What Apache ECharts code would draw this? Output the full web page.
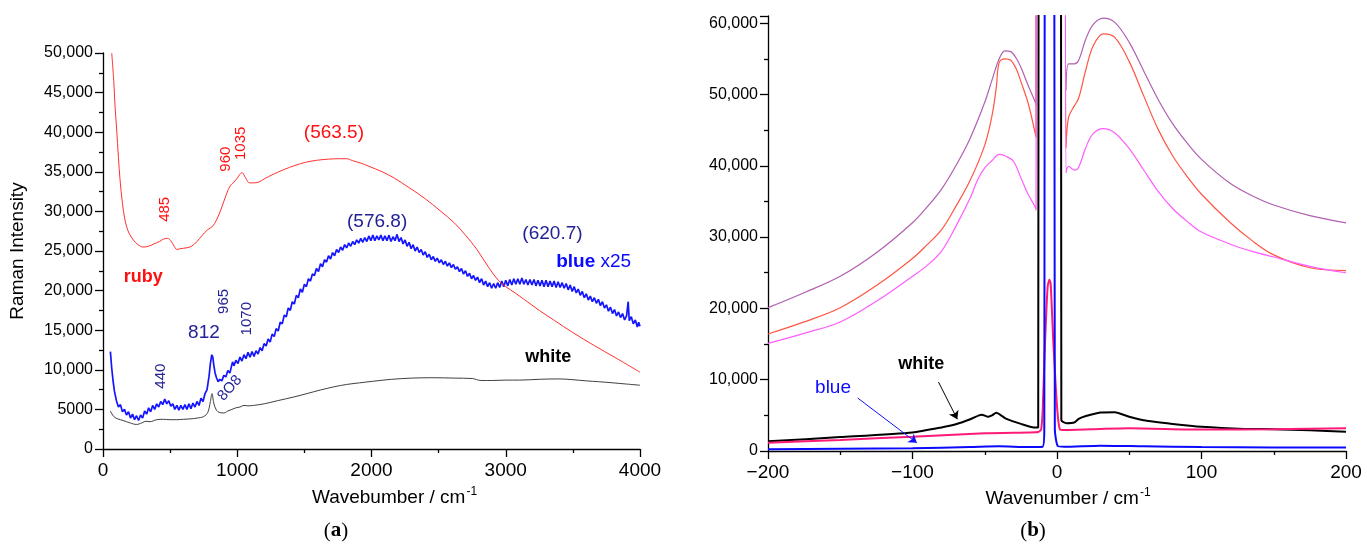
<!DOCTYPE html>
<html>
<head>
<meta charset="utf-8">
<script src="https://cdn.jsdelivr.net/npm/echarts@6.0.0/dist/echarts.min.js"></script>
<style>
html,body{margin:0;padding:0;background:#fff;}
#chart{width:1367px;height:546px;}
</style>
</head>
<body>
<div id="chart"></div>
<script>
// ---------- Panel (a) data: [wavenumber, intensity] ----------
const rubyA = [[65,50000],[80,46500],[90,43200],[102,40300],[115,36800],[127,34000],[145,31000],[164,28900],[190,27400],[226,26400],[260,25800],[300,25500],[340,25600],[380,25900],[420,26200],[450,26500],[480,26600],[505,26300],[530,25600],[550,25200],[580,25300],[620,25400],[660,25600],[700,26200],[740,27000],[780,27700],[815,28100],[845,28900],[880,30300],[920,32200],[950,33300],[975,33700],[1000,34200],[1020,34700],[1035,34900],[1050,34600],[1070,34000],[1090,33600],[1120,33600],[1160,33700],[1200,34100],[1270,34700],[1350,35300],[1430,35800],[1510,36200],[1590,36450],[1680,36600],[1760,36650],[1815,36650],[1860,36400],[1920,36100],[1980,35700],[2080,35000],[2170,34200],[2280,33000],[2400,31600],[2510,30100],[2620,28500],[2700,27000],[2785,25200],[2870,23000],[2945,21300],[3000,20500],[3070,19700],[3140,18850],[3250,17500],[3365,16200],[3500,14700],[3655,13100],[3820,11500],[4000,9700]];

const blueA = [[55,12300],[65,10200],[75,8600],[85,7300],[100,6100],[115,5300],[130,5600],[145,4700],[160,5000],[175,4300],[190,4700],[205,3900],[220,4400],[235,3700],[250,4200],[265,3600],[280,4300],[295,3900],[310,4800],[325,4400],[340,5200],[355,4700],[370,5500],[385,5000],[400,5700],[415,5300],[430,6000],[445,5600],[460,6300],[475,5700],[490,6100],[505,5400],[520,5700],[535,5000],[550,5500],[565,4900],[580,5500],[595,5000],[610,5600],[625,5000],[640,5700],[655,5100],[670,5800],[685,5300],[700,6000],[715,5500],[730,6400],[745,6000],[760,7000],[775,7500],[790,9200],[800,10800],[810,11900],[818,11600],[826,10500],[835,9600],[845,9000],[858,8500],[870,8800],[885,8600],[900,9300],[915,9100],[930,9900],[945,9600],[955,10300],[965,11000],[975,10500],[990,11200],[1005,10800],[1020,11600],[1035,11100],[1050,11900],[1065,11400],[1080,12200],[1095,11600],[1110,12300],[1125,11700],[1140,12400],[1155,12000],[1170,12800],[1185,12400],[1200,13300],[1215,13000],[1230,13900],[1245,13500],[1260,14500],[1275,14200],[1290,15200],[1305,14900],[1320,16000],[1335,15800],[1350,16900],[1365,16700],[1380,17800],[1395,17500],[1410,18600],[1425,18300],[1440,19400],[1455,19100],[1470,20200],[1485,19800],[1500,20800],[1515,20500],[1530,21500],[1545,21200],[1560,22100],[1575,21900],[1590,22800],[1605,22400],[1620,23400],[1635,23000],[1650,23900],[1665,23600],[1680,24400],[1695,24000],[1710,24800],[1725,24400],[1740,25200],[1755,24800],[1770,25500],[1785,25100],[1800,25800],[1815,25400],[1830,26000],[1845,25600],[1860,26200],[1875,25800],[1890,26400],[1905,26000],[1920,26600],[1935,26100],[1950,26700],[1965,26200],[1980,26900],[1995,26300],[2010,27000],[2025,26300],[2040,26900],[2055,26400],[2070,27000],[2085,26300],[2100,26900],[2115,26300],[2130,27000],[2145,26200],[2160,26800],[2175,26300],[2190,27100],[2205,26200],[2220,26700],[2235,25900],[2250,26400],[2265,25600],[2280,26100],[2295,25300],[2310,25800],[2325,25000],[2340,25500],[2355,24800],[2370,25200],[2385,24500],[2400,24900],[2415,24200],[2430,24600],[2445,23900],[2460,24300],[2475,23700],[2490,24100],[2505,23500],[2520,23900],[2535,23300],[2550,23700],[2565,23100],[2580,23500],[2595,22900],[2610,23300],[2625,22700],[2640,23000],[2655,22400],[2670,22800],[2685,22100],[2700,22500],[2715,21800],[2730,22200],[2745,21500],[2760,21900],[2775,21300],[2790,21700],[2805,21000],[2820,21500],[2835,20700],[2850,21200],[2865,20500],[2880,21000],[2895,20300],[2910,20900],[2925,20300],[2940,21000],[2955,20400],[2970,21200],[2985,20500],[3000,21300],[3015,20600],[3030,21400],[3045,20700],[3060,21500],[3075,20800],[3090,21500],[3105,20800],[3120,21600],[3135,20800],[3150,21400],[3165,20700],[3180,21400],[3195,20700],[3210,21400],[3225,20600],[3240,21300],[3255,20600],[3270,21300],[3285,20500],[3300,21300],[3315,20500],[3330,21200],[3345,20500],[3360,21200],[3375,20400],[3390,21100],[3405,20400],[3420,21000],[3435,20300],[3450,20900],[3465,20100],[3480,20700],[3495,19900],[3510,20500],[3525,19700],[3540,20200],[3555,19400],[3570,19900],[3585,19100],[3600,19600],[3615,18800],[3630,19300],[3645,18600],[3660,19100],[3675,18400],[3690,18900],[3705,18100],[3720,18600],[3735,17800],[3750,18200],[3765,17400],[3780,17900],[3795,17100],[3810,17600],[3825,16800],[3840,17300],[3855,16600],[3870,17100],[3885,16300],[3900,16800],[3912,18600],[3920,16200],[3935,16700],[3950,15800],[3965,16300],[3980,15400],[3990,16000],[4000,15500]];

const whiteA = [[55,4800],[80,4100],[110,3800],[150,3600],[200,3300],[250,3100],[290,3300],[320,3500],[350,3450],[400,3700],[450,3750],[500,3700],[550,3700],[600,3750],[650,3800],[700,3900],[750,4100],[780,4600],[800,6000],[812,7000],[825,5800],[845,4900],[870,4600],[900,4550],[930,4800],[960,5000],[990,5200],[1020,5300],[1050,5500],[1080,5450],[1120,5500],[1200,5700],[1300,6100],[1430,6600],[1520,7000],[1620,7450],[1720,7850],[1815,8150],[1910,8350],[2010,8550],[2150,8800],[2300,8950],[2450,9000],[2620,8950],[2750,8900],[2815,8650],[2900,8650],[3000,8700],[3105,8700],[3250,8800],[3395,8850],[3500,8750],[3600,8600],[3690,8500],[3800,8350],[3900,8200],[4000,8050]];

// ---------- Panel (b) data ----------
const purpleB = [[-200,20100],[-175,22200],[-150,24500],[-125,27800],[-100,32000],[-90,34200],[-80,36700],[-70,40000],[-60,43900],[-50,48900],[-45,52000],[-40,55000],[-36,56100],[-32,56000],[-28,55000],[-25,53800],[-20,51300],[-15,48900],[-14.5,48500],[-13,200000],[5,200000],[6.2,50600],[8,54300],[12,54300],[15,54800],[20,57800],[25,59800],[32,60700],[40,60100],[50,57300],[60,53300],[70,49300],[80,45900],[90,43200],[100,40900],[120,37500],[135,35800],[150,34500],[175,33000],[200,32000]];
const redB = [[-200,16400],[-175,18100],[-150,20100],[-125,23200],[-100,27000],[-90,28900],[-80,31000],[-70,34300],[-60,38000],[-50,42900],[-45,47000],[-42,51000],[-40,54500],[-36,55000],[-32,54800],[-28,53500],[-25,51800],[-20,48800],[-15,44500],[-14.5,44000],[-13,200000],[5,200000],[6.2,42500],[8,46800],[12,48400],[15,49500],[20,53500],[25,56800],[32,58500],[40,58000],[50,54600],[60,49800],[70,45100],[80,41400],[90,38500],[100,36000],[120,32000],[135,29500],[150,27500],[175,25700],[200,25300]];
const magentaB = [[-200,15100],[-175,16500],[-150,18100],[-125,21000],[-100,24500],[-90,26000],[-80,28000],[-70,31500],[-60,35500],[-55,38000],[-50,39700],[-45,40700],[-40,41600],[-35,41300],[-30,40600],[-25,38300],[-20,36000],[-15,34200],[-14.5,33800],[-13,200000],[5,200000],[6.2,39000],[8,39900],[12,39400],[15,39800],[20,42600],[25,44500],[32,45200],[40,44600],[50,42400],[60,39400],[70,36400],[80,34000],[90,32200],[100,30700],[120,29000],[135,28000],[150,27200],[175,25900],[200,25000]];
const whiteB = [[-200,1350],[-150,1950],[-100,2600],[-80,3300],[-70,3750],[-60,4450],[-54,5000],[-52,5100],[-48,4800],[-45,5000],[-42,5350],[-38,4900],[-35,4500],[-25,3800],[-16,3300],[-13,3300],[-11.3,300000],[1.6,300000],[3,4300],[6.5,3900],[12,4000],[15,4500],[20,4900],[30,5400],[40,5450],[50,4800],[60,4300],[80,3800],[100,3400],[130,3100],[150,3050],[175,2900],[200,2700]];
const pinkB = [[-200,1150],[-150,1550],[-100,2000],[-50,2500],[-20,2600],[-13,2650],[-11,3000],[-9.9,5750],[-8.3,15100],[-6.5,23000],[-5.3,24000],[-4.4,23500],[-2.5,15100],[0.2,5750],[2.1,3000],[5,2950],[30,3100],[50,3200],[100,3000],[150,3050],[200,3200]];
const blueB = [[-200,250],[-150,320],[-100,400],[-60,550],[-40,650],[-20,550],[-10,600],[-8.8,3000],[-7.3,300000],[-3.6,300000],[-1.5,3000],[0.5,700],[5,600],[30,750],[60,650],[100,550],[150,500],[200,500]];

// ---------- Tick labels ----------
const yTickLabelsA = ['0','5000','10,000','15,000','20,000','25,000','30,000','35,000','40,000','45,000','50,000'];
const xTickLabelsA = ['0','1000','2000','3000','4000'];
const yTickLabelsB = ['0','10,000','20,000','30,000','40,000','50,000','60,000'];
const xTickLabelsB = ['\u2212200','\u2212100','0','100','200'];

// ---------- Annotations: text, x, y (data coords), kind ----------
const notesA = [
  ['(563.5)', 1720, 39900, 'red'],
  ['960', 913, 36600, 'redV'],
  ['1035', 1026, 38600, 'redV'],
  ['485', 461, 30260, 'redV'],
  ['ruby', 300, 21700, 'redB'],
  ['(576.8)', 2042, 28700, 'navy'],
  ['(620.7)', 3348, 27200, 'navy'],
  ['{b|blue} {n|x25}', 3655, 23700, 'blueRich'],
  ['812', 752, 14700, 'navy'],
  ['965', 897, 18640, 'navyV'],
  ['1070', 1068, 16450, 'navyV'],
  ['440', 429, 9200, 'navyV'],
  ['8O8', 945, 7680, 'navyD'],
  ['white', 3316, 11620, 'blackB']
];
const notesB = [
  ['white', -94, 12150, 'blackB'],
  ['blue', -155, 8930, 'blue']
];
const arrowsB = [
  [[-82, 9670], [-69, 4460], '#000000'],
  [[-138, 7440], [-97, 1140], '#1010ff']
];

// ---------- Styles ----------
const FONT = 'Liberation Sans, Arial, sans-serif';
const NAVY = '#222296';
const kinds = {
  red:    {color:'#ff1010', fontSize:19, rotate:0},
  redV:   {color:'#ff1010', fontSize:15, rotate:90},
  redB:   {color:'#ff1010', fontSize:18, rotate:0, fontWeight:'bold'},
  navy:   {color:NAVY, fontSize:19, rotate:0},
  navyV:  {color:NAVY, fontSize:15, rotate:90},
  navyD:  {color:NAVY, fontSize:15, rotate:48},
  blackB: {color:'#000', fontSize:18, rotate:0, fontWeight:'bold'},
  blue:   {color:'#0a0aff', fontSize:19, rotate:0},
  blueRich:{color:'#0a0aff', fontSize:19, rotate:0, rich:{b:{fontWeight:'bold', fontSize:19, color:'#0a0aff', fontFamily:FONT}, n:{fontSize:19, color:'#0a0aff', fontFamily:FONT}}}
};
function noteItems(list){
  return list.map(n => {
    const k = kinds[n[3]];
    return {
      value:[n[1], n[2]],
      itemStyle:{opacity:1},
      label:Object.assign({show:true, position:'inside', formatter:n[0], fontFamily:FONT, fontWeight:'normal', opacity:1}, k)
    };
  });
}

const axisBase = {
  type:'value',
  splitLine:{show:false},
  axisLine:{show:true, onZero:false, lineStyle:{color:'#000', width:1.3}},
  axisTick:{show:true, inside:false, length:8, lineStyle:{color:'#000', width:1.3}},
  minorTick:{show:true, splitNumber:2, length:4, lineStyle:{color:'#000', width:1.3}},
};
const supRich = {
  t:{fontSize:19, fontFamily:FONT, color:'#000'},
  s:{fontSize:12, fontFamily:FONT, color:'#000', padding:[0,0,12,1]}
};
const SM = 0.35;

const chart = echarts.init(document.getElementById('chart'), null, {renderer:'canvas'});
const option = {
  backgroundColor:'#fff',
  animation:false,
  grid:[
    {left:103, top:53, width:537, height:396},
    {left:768, top:16, width:578, height:435}
  ],
  xAxis:[
    Object.assign({}, axisBase, {gridIndex:0, min:0, max:4000, interval:1000,
      axisLabel:{fontSize:19, color:'#000', fontFamily:FONT, margin:12, formatter:v => xTickLabelsA[Math.round(v/1000)]},
      name:'{t|Wavebumber / cm}{s|-1}', nameLocation:'middle', nameGap:37,
      nameTextStyle:{rich:supRich, padding:[0,0,0,46]}}),
    Object.assign({}, axisBase, {gridIndex:1, min:-200, max:200, interval:100,
      axisLabel:{fontSize:19, color:'#000', fontFamily:FONT, margin:12, formatter:v => xTickLabelsB[Math.round((v+200)/100)]},
      name:'{t|Wavenumber / cm}{s|-1}', nameLocation:'middle', nameGap:35,
      nameTextStyle:{rich:supRich, padding:[0,0,0,22]}})
  ],
  yAxis:[
    Object.assign({}, axisBase, {gridIndex:0, min:0, max:50000, interval:5000,
      axisLabel:{fontSize:16, color:'#000', fontFamily:FONT, margin:10, formatter:v => yTickLabelsA[Math.round(v/5000)]},
      name:'Raman Intensity', nameLocation:'middle', nameGap:76,
      nameTextStyle:{fontSize:19, fontFamily:FONT, color:'#000'}}),
    Object.assign({}, axisBase, {gridIndex:1, min:0, max:61000, interval:10000,
      axisLabel:{fontSize:16, color:'#000', fontFamily:FONT, margin:10, formatter:v => (v % 10000 === 0 ? yTickLabelsB[v/10000] : '')}})
  ],
  series:[
    {type:'line', xAxisIndex:0, yAxisIndex:0, data:rubyA, showSymbol:false, smooth:SM, lineStyle:{color:'#ff3030', width:1}, z:3},
    {type:'line', xAxisIndex:0, yAxisIndex:0, data:blueA, showSymbol:false, lineStyle:{color:'#1414ff', width:1.7}, z:2},
    {type:'line', xAxisIndex:0, yAxisIndex:0, data:whiteA, showSymbol:false, smooth:SM, lineStyle:{color:'#404040', width:1}, z:2},
    {type:'scatter', xAxisIndex:0, yAxisIndex:0, data:noteItems(notesA), symbolSize:0, silent:true, z:10},

    {type:'line', xAxisIndex:1, yAxisIndex:1, data:purpleB, showSymbol:false, smooth:SM, lineStyle:{color:'#b060b0', width:1.2}},
    {type:'line', xAxisIndex:1, yAxisIndex:1, data:redB, showSymbol:false, smooth:SM, lineStyle:{color:'#ff5545', width:1.2}},
    {type:'line', xAxisIndex:1, yAxisIndex:1, data:magentaB, showSymbol:false, smooth:SM, lineStyle:{color:'#ff5cff', width:1.2}},
    {type:'line', xAxisIndex:1, yAxisIndex:1, data:whiteB, showSymbol:false, smooth:0.2, lineStyle:{color:'#000', width:2}},
    {type:'line', xAxisIndex:1, yAxisIndex:1, data:pinkB, showSymbol:false, smooth:0.2, lineStyle:{color:'#ff1a78', width:2}},
    {type:'line', xAxisIndex:1, yAxisIndex:1, data:blueB, showSymbol:false, smooth:0.2, lineStyle:{color:'#0a0aff', width:2}},
    {type:'scatter', xAxisIndex:1, yAxisIndex:1, data:noteItems(notesB), symbolSize:0, silent:true, z:10,
      markLine:{silent:true, symbol:['none','arrow'], symbolSize:8, label:{show:false},
        data:arrowsB.map(a => [{coord:a[0], lineStyle:{color:a[2], width:1, type:'solid'}}, {coord:a[1]}])}}
  ],
  graphic:[
    {type:'text', x:336, y:531, style:{text:'({b|a})', fontFamily:'Liberation Serif, Times New Roman, serif', fontSize:21, fill:'#000', align:'center', verticalAlign:'middle', rich:{b:{fontWeight:'bold', fontFamily:'Liberation Serif, serif', fontSize:21}}}},
    {type:'text', x:1033, y:531, style:{text:'({b|b})', fontFamily:'Liberation Serif, Times New Roman, serif', fontSize:21, fill:'#000', align:'center', verticalAlign:'middle', rich:{b:{fontWeight:'bold', fontFamily:'Liberation Serif, serif', fontSize:21}}}}
  ]
};
chart.setOption(option);
</script>
</body>
</html>
